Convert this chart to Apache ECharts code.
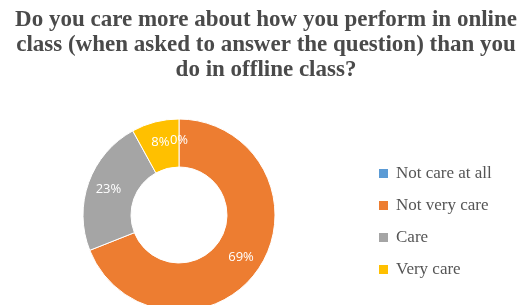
<!DOCTYPE html>
<html>
<head>
<meta charset="utf-8">
<script src="https://cdn.jsdelivr.net/npm/echarts@6/dist/echarts.min.js"></script>
<style>
  html, body { margin: 0; padding: 0; background: #fff; }
  #chart { width: 517px; height: 305px; }
</style>
</head>
<body>
<div id="chart"></div>
<script>
// answer categories, in pie order (clockwise from 12 o'clock)
const categories = ['Not care at all', 'Not very care', 'Care', 'Very care'];
// share of respondents, %
const shares = [0, 69, 23, 8];
const colors = ['#5B9BD5', '#ED7D31', '#A5A5A5', '#FFC000'];

const chart = echarts.init(document.getElementById('chart'));

chart.setOption({
    animation: false,
    color: colors,
    title: {
        text: 'Do you care more about how you perform in online\nclass (when asked to answer the question) than you\ndo in offline class?',
        left: 261,
        textAlign: 'center',
        top: 3,
        textStyle: {
            fontFamily: 'Liberation Serif',
            fontWeight: 'bold',
            fontSize: 23,
            lineHeight: 25,
            color: '#4a4a4a'
        }
    },
    legend: {
        orient: 'vertical',
        left: 372,
        top: 160,
        itemWidth: 11,
        itemHeight: 11,
        itemGap: 15,
        icon: 'rect',
        textStyle: {
            fontFamily: 'Liberation Serif',
            fontSize: 17,
            color: '#555555',
            padding: [0, 0, 0, 2]
        },
        data: categories
    },
    series: [{
        type: 'pie',
        center: [179, 215],
        radius: [48, 96],
        startAngle: 90,
        clockwise: true,
        avoidLabelOverlap: false,
        itemStyle: { borderColor: '#fff', borderWidth: 1 },
        label: {
            position: 'inside',
            formatter: '{c}%',
            color: '#fff',
            fontFamily: 'Open Sans',
            fontSize: 13
        },
        labelLine: { show: false },
        data: categories.map((name, i) => ({ name: name, value: shares[i] }))
    }]
});
</script>
</body>
</html>
